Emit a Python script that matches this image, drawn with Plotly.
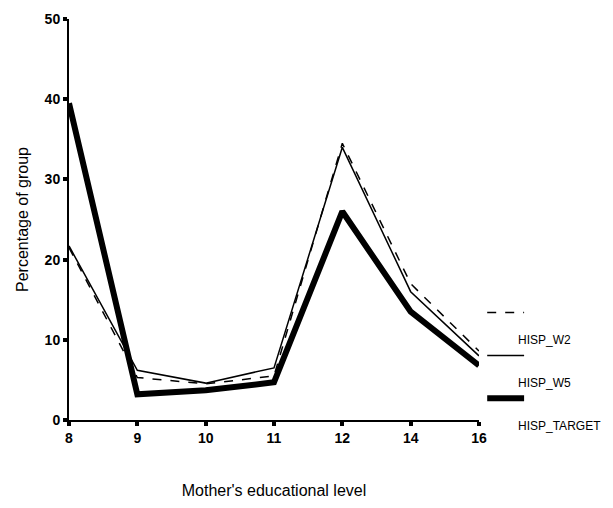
import plotly.graph_objects as go

# -- data
niveles = ['8', '9', '10', '11', '12', '14', '16']
hisp_w2 = [21.5, 5.3, 4.5, 5.5, 34.5, 17.0, 8.6]
hisp_w5 = [21.7, 6.2, 4.6, 6.5, 34.0, 16.0, 8.0]
hisp_target = [39.5, 3.2, 3.7, 4.7, 26.0, 13.5, 6.8]
y_ticks = [0, 10, 20, 30, 40, 50]

fig = go.Figure()

fig.add_trace(go.Scatter(x=niveles, y=hisp_w2, name='HISP_W2', mode='lines',
                         line=dict(color='black', width=1.5, dash='dash')))
fig.add_trace(go.Scatter(x=niveles, y=hisp_w5, name='HISP_W5', mode='lines',
                         line=dict(color='black', width=1.5)))
fig.add_trace(go.Scatter(x=niveles, y=hisp_target, name='HISP_TARGET', mode='lines',
                         line=dict(color='black', width=6)))

# -- legend drawn by hand (symbol above, label below-right)
leyenda = [('HISP_W2', 'dash', 1.5), ('HISP_W5', 'solid', 1.5), ('HISP_TARGET', 'solid', 6)]
y0 = 0.268
for i, (nombre, estilo, ancho) in enumerate(leyenda):
    yy = y0 - i * 0.107
    fig.add_shape(type='line', xref='paper', yref='paper', x0=1.02, x1=1.11, y0=yy, y1=yy,
                  line=dict(color='black', width=ancho, dash=estilo))
    fig.add_annotation(x=1.09, y=yy - 0.068, xref='paper', yref='paper', text=nombre,
                       showarrow=False, xanchor='left', yanchor='middle',
                       font=dict(family='Liberation Sans, Arial', size=12, color='black'))

fig.update_layout(
    width=613, height=508,
    margin=dict(l=69, r=134, t=11, b=85),
    plot_bgcolor='white', paper_bgcolor='white',
    showlegend=False,
    font=dict(family='Liberation Sans, Arial', color='black'),
)

fig.update_xaxes(type='category', range=[0, 6], showgrid=False, zeroline=False,
                 showline=True, linecolor='black', linewidth=2,
                 ticks='outside', ticklen=4, tickwidth=4, tickcolor='black',
                 tickfont=dict(size=14, weight='bold'),
                 title=dict(text="Mother's educational level", font=dict(size=16), standoff=40))
fig.update_yaxes(range=[0, 50], tickvals=y_ticks, showgrid=False, zeroline=False,
                 showline=True, linecolor='black', linewidth=2,
                 ticks='outside', ticklen=4, tickwidth=4, tickcolor='black',
                 tickfont=dict(size=14, weight='bold'),
                 title=dict(text='Percentage of group', font=dict(size=16), standoff=12))

# the page has an 8px body margin by default; drop it so the figure fills the window
fig.write_html("out.html", config={'displayModeBar': False},
               post_script="document.body.style.margin='0px';")
